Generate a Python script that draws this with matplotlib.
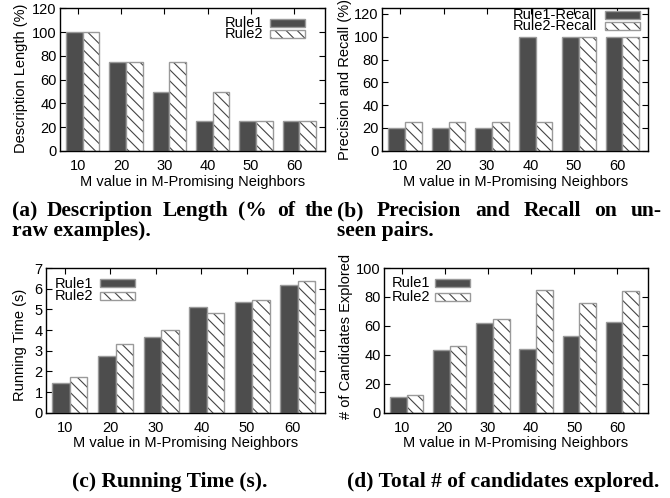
import matplotlib
matplotlib.use('Agg')
import matplotlib.pyplot as plt
from matplotlib.patches import Rectangle
import numpy as np

plt.rcParams['font.family'] = ['Liberation Sans', 'DejaVu Sans']
plt.rcParams['hatch.linewidth'] = 0.8

W, H = 670, 498

# ---------------- data ----------------
m_values = ['10', '20', '30', '40', '50', '60']
desc_rule1 = [100, 75, 50, 25, 25, 25]
desc_rule2 = [100, 75, 75, 50, 25, 25]
rec_rule1 = [20, 20, 20, 100, 100, 100]
rec_rule2 = [25, 25, 25, 25, 100, 100]
time_rule1 = [1.46, 2.74, 3.67, 5.10, 5.36, 6.20]
time_rule2 = [1.72, 3.30, 4.00, 4.82, 5.44, 6.38]
cand_rule1 = [11, 43, 62, 44, 53, 63]
cand_rule2 = [12, 46, 65, 85, 76, 84]
labels_rule = ['Rule1', 'Rule2']
labels_recall = ['Rule1-Recall', 'Rule2-Recall']
xlabel = 'M value in M-Promising Neighbors'

DARK = '#4d4d4d'
EDGE = '#9a9a9a'
HATCH = '#444444'
FS = 10.5

fig = plt.figure(figsize=(W / 100, H / 100), dpi=100)


def fx(x):
    return x / W


def fy(y):
    return 1 - y / H


panels = [
    dict(box=(60, 8.3, 325, 151), r1=desc_rule1, r2=desc_rule2, ylim=(0, 120),
         yticks=list(range(0, 121, 20)), ylabel='Description Length (%)',
         ylab_pos=(21.5, 78), xlab_y=181.7, labels=labels_rule,
         leg=dict(tr=263, sw=270, rows=(22.7, 34.3))),
    dict(box=(382.3, 8.3, 648.3, 150.7), r1=rec_rule1, r2=rec_rule2, ylim=(0, 125),
         yticks=list(range(0, 121, 20)), ylabel='Precision and Recall (%)',
         ylab_pos=(345, 79.5), xlab_y=181.7, labels=labels_recall,
         leg=dict(tr=596.7, sw=605, rows=(15, 26.5))),
    dict(box=(46, 268, 325, 412.7), r1=time_rule1, r2=time_rule2, ylim=(0, 7),
         yticks=list(range(0, 8)), ylabel='Running Time (s)',
         ylab_pos=(20, 345), xlab_y=443, labels=labels_rule,
         leg=dict(tr=93.3, sw=100, rows=(283.5, 296.5))),
    dict(box=(384, 268, 648, 412.7), r1=cand_rule1, r2=cand_rule2, ylim=(0, 100),
         yticks=list(range(0, 101, 20)), ylabel='# of Candidates Explored',
         ylab_pos=(346, 336), xlab_y=443, labels=labels_rule,
         leg=dict(tr=430, sw=435, rows=(283.3, 296.7))),
]

bw = 0.385
off1 = -0.27 + bw / 2
off2 = off1 + bw
x = np.arange(len(m_values))

for p in panels:
    l, t, r, b = p['box']
    ax = fig.add_axes([fx(l), fy(b), (r - l) / W, (b - t) / H])
    ax.bar(x + off1, p['r1'], width=bw, color=DARK, edgecolor=EDGE, linewidth=1.0, zorder=2)
    ax.bar(x + off2, p['r2'], width=bw, color='white', edgecolor=HATCH, hatch='\\' * 3,
           linewidth=0, zorder=2)
    ax.bar(x + off2, p['r2'], width=bw, color='none', edgecolor=EDGE, linewidth=1.0, zorder=3)
    ax.set_xlim(-0.41, 5.71)
    ax.set_ylim(*p['ylim'])
    ax.set_xticks(x)
    ax.set_xticklabels(m_values)
    ax.set_yticks(p['yticks'])
    ax.tick_params(direction='in', length=4, width=0.8, top=True, right=True,
                   labelsize=FS, colors='black')
    ax.tick_params(axis='x', pad=6)
    ax.tick_params(axis='y', pad=2.5)
    for s in ax.spines.values():
        s.set_linewidth(1.0)
        s.set_color('black')
        s.set_zorder(5)
    fig.text(fx((l + r) / 2), fy(p['xlab_y']), xlabel, ha='center', va='center', fontsize=FS)
    fig.text(fx(p['ylab_pos'][0]), fy(p['ylab_pos'][1]), p['ylabel'], rotation=90,
             ha='center', va='center', fontsize=FS)
    lg = p['leg']
    for i, row in enumerate(lg['rows']):
        fig.text(fx(lg['tr']), fy(row), p['labels'][i], ha='right', va='center', fontsize=FS)
        if i == 0:
            rect = Rectangle((fx(lg['sw']), fy(row + 4)), 35 / W, 8 / H, transform=fig.transFigure,
                             facecolor=DARK, edgecolor=EDGE, linewidth=1.0)
            fig.add_artist(rect)
        else:
            rect = Rectangle((fx(lg['sw']), fy(row + 4)), 35 / W, 8 / H, transform=fig.transFigure,
                             facecolor='white', edgecolor=HATCH, hatch='\\' * 3, linewidth=0)
            fig.add_artist(rect)
            rect2 = Rectangle((fx(lg['sw']), fy(row + 4)), 35 / W, 8 / H, transform=fig.transFigure,
                              facecolor='none', edgecolor=EDGE, linewidth=1.0)
            fig.add_artist(rect2)

# ---------------- captions ----------------
CAP = dict(family=['Liberation Serif', 'DejaVu Serif'], fontweight='bold', fontsize=15.5)
renderer = fig.canvas.get_renderer()


def justified(text, x0, x1, ybase):
    words = text.split(' ')
    objs = [fig.text(0, fy(ybase), w, ha='left', va='baseline', **CAP) for w in words]
    widths = [o.get_window_extent(renderer).width for o in objs]
    gap = max(3.0, (x1 - x0 - sum(widths)) / (len(words) - 1))
    xc = x0
    for o, w in zip(objs, widths):
        o.set_x(fx(xc))
        xc += w + gap


justified('(a) Description Length (% of the', 12, 333, 216)
fig.text(fx(12), fy(236), 'raw examples).', ha='left', va='baseline', **CAP)
justified('(b) Precision and Recall on un-', 337, 662, 216)
fig.text(fx(337), fy(236), 'seen pairs.', ha='left', va='baseline', **CAP)
fig.text(fx(170), fy(487), '(c) Running Time (s).', ha='center', va='baseline', **CAP)
fig.text(fx(503), fy(487), '(d) Total # of candidates explored.', ha='center', va='baseline', **CAP)

fig.savefig('out.png', dpi=100)
